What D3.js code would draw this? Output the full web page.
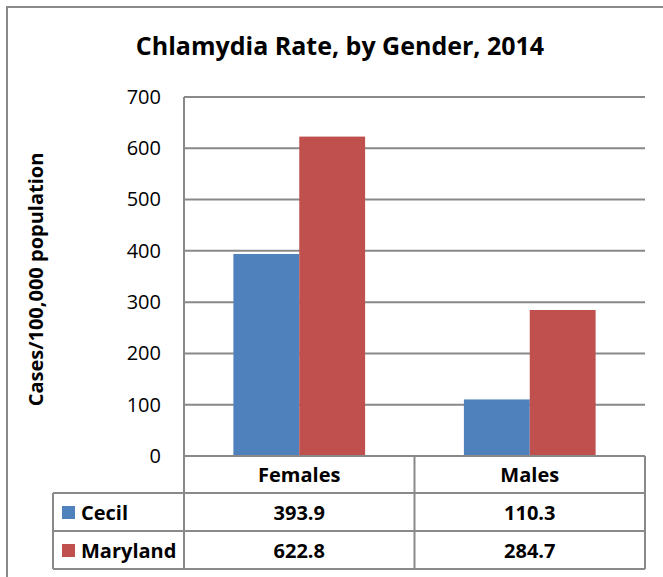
<!DOCTYPE html>
<html>
<head>
<meta charset="utf-8">
<script src="https://cdn.jsdelivr.net/npm/d3@7"></script>
<style>
  html, body { margin: 0; padding: 0; background: #fff; }
  svg { display: block; }
  text { font-family: "Open Sans", Lato, sans-serif; fill: #000; }
</style>
</head>
<body>
<svg id="chart" width="663" height="577"></svg>
<script>
// Chlamydia rate per 100,000 population, 2014
const categories = ["Females", "Males"];
const seriesNames = ["Cecil", "Maryland"];
const cecil = [393.9, 110.3];
const maryland = [622.8, 284.7];
const seriesColors = ["#4F81BD", "#C0504D"];
const yTicks = [0, 100, 200, 300, 400, 500, 600, 700];
const titleText = "Chlamydia Rate, by Gender, 2014";
const yTitle = "Cases/100,000 population";

const seriesValues = [cecil, maryland];

const svg = d3.select("#chart");
const gridColor = "#898989";

// outer frame (runs off the right and bottom edges)
svg.append("rect")
  .attr("x", 7).attr("y", 7)
  .attr("width", 680).attr("height", 600)
  .attr("fill", "none")
  .attr("stroke", gridColor)
  .attr("stroke-width", 2);

const plot = { left: 184, right: 645, top: 97, bottom: 456 };

const y = d3.scaleLinear().domain([0, 700]).range([plot.bottom, plot.top]);
const x0 = d3.scaleBand().domain(categories).range([plot.left, plot.right]).padding(0);
const bw = x0.bandwidth();
const barW = bw / 3.5; // gap width 150%
const x1 = d3.scaleBand().domain(seriesNames).range([barW * 0.75, bw - barW * 0.75]).padding(0);

// gridlines
svg.append("g")
  .selectAll("line")
  .data(yTicks.filter(d => d > 0))
  .join("line")
  .attr("x1", plot.left).attr("x2", plot.right)
  .attr("y1", d => y(d)).attr("y2", d => y(d))
  .attr("stroke", gridColor).attr("stroke-width", 2);

// y axis labels
const yAxis = d3.axisLeft(y).tickValues(yTicks).tickSize(0).tickPadding(23);
const ya = svg.append("g").attr("transform", `translate(${plot.left},0)`).call(yAxis);
ya.select(".domain").remove();
ya.selectAll("text")
  .style("font-family", "'Open Sans', sans-serif")
  .style("font-size", "20px")
  .attr("fill", "#000");

// bars
const groups = svg.append("g")
  .selectAll("g")
  .data(categories)
  .join("g")
  .attr("transform", d => `translate(${x0(d)},0)`);

groups.selectAll("rect")
  .data((c, i) => seriesNames.map((s, j) => ({ s, j, v: seriesValues[j][i] })))
  .join("rect")
  .attr("x", d => x1(d.s))
  .attr("width", x1.bandwidth())
  .attr("y", d => y(d.v))
  .attr("height", d => y(0) - y(d.v))
  .attr("fill", d => seriesColors[d.j]);

// vertical axis line
svg.append("line")
  .attr("x1", plot.left).attr("x2", plot.left)
  .attr("y1", plot.top).attr("y2", plot.bottom)
  .attr("stroke", gridColor).attr("stroke-width", 2);

// data table
const tableLeft = 53;
const rowH = [plot.bottom, 493, 531, 569];
const tbl = svg.append("g");
// horizontal rules
tbl.append("line")
  .attr("x1", plot.left).attr("x2", plot.right)
  .attr("y1", rowH[0]).attr("y2", rowH[0])
  .attr("stroke", gridColor).attr("stroke-width", 2);
rowH.slice(1).forEach(yy => {
  tbl.append("line")
    .attr("x1", tableLeft).attr("x2", plot.right)
    .attr("y1", yy).attr("y2", yy)
    .attr("stroke", gridColor).attr("stroke-width", 2);
});
// vertical rules
tbl.append("line")
  .attr("x1", tableLeft).attr("x2", tableLeft)
  .attr("y1", rowH[1]).attr("y2", rowH[3])
  .attr("stroke", gridColor).attr("stroke-width", 2);
[plot.left, plot.left + bw, plot.right].forEach(xx => {
  tbl.append("line")
    .attr("x1", xx).attr("x2", xx)
    .attr("y1", rowH[0]).attr("y2", rowH[3])
    .attr("stroke", gridColor).attr("stroke-width", 2);
});

// header row: categories
tbl.selectAll("text.cat")
  .data(categories)
  .join("text")
  .attr("class", "cat")
  .attr("x", d => x0(d) + bw / 2)
  .attr("y", 482)
  .attr("text-anchor", "middle")
  .style("font-size", "20px")
  .style("font-weight", "bold")
  .text(d => d);

// series rows
seriesNames.forEach((s, j) => {
  const top = rowH[j + 1], bot = rowH[j + 2];
  const mid = (top + bot) / 2;
  tbl.append("rect")
    .attr("x", 62).attr("y", mid - 6)
    .attr("width", 13).attr("height", 13)
    .attr("fill", seriesColors[j]);
  tbl.append("text")
    .attr("x", 81).attr("y", mid + 8)
    .style("font-size", "20px")
    .style("font-weight", "bold")
    .text(s);
  categories.forEach((c, i) => {
    tbl.append("text")
      .attr("x", x0(c) + bw / 2)
      .attr("y", mid + 8)
      .attr("text-anchor", "middle")
      .style("font-size", "20px")
      .style("font-weight", "bold")
      .text(seriesValues[j][i].toFixed(1));
  });
});

// title
svg.append("text")
  .attr("x", 340).attr("y", 55)
  .attr("text-anchor", "middle")
  .style("font-size", "25px")
  .style("font-weight", "bold")
  .text(titleText);

// y axis title
svg.append("text")
  .attr("transform", `translate(43,${(plot.top + plot.bottom) / 2 + 3}) rotate(-90)`)
  .attr("text-anchor", "middle")
  .style("font-size", "20px")
  .style("font-weight", "bold")
  .text(yTitle);
</script>
</body>
</html>
